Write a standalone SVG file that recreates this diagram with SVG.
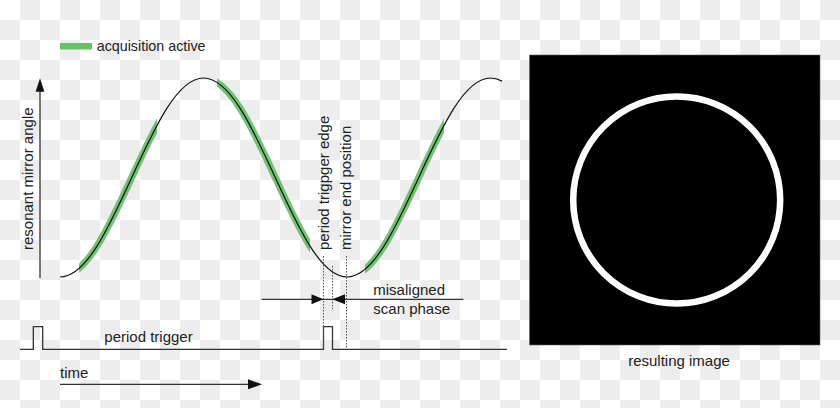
<svg xmlns="http://www.w3.org/2000/svg" xmlns:xlink="http://www.w3.org/1999/xlink" width="840" height="408" viewBox="0 0 840 408">
<style>
text{font-family:"Liberation Sans",Arial,sans-serif;font-size:15px;fill:#222}
.wave{fill:none;stroke:#111;stroke-width:1.2}
.acq{fill:none;stroke:#5cb85c;stroke-opacity:0.85;stroke-width:7}
.line{fill:none;stroke:#333;stroke-width:1.3}
.dot{fill:none;stroke:#555;stroke-width:1;stroke-dasharray:1.5 1.5}
.head{fill:#111}
</style>
<defs>
<pattern id="checker" width="40" height="40" patternUnits="userSpaceOnUse">
<rect width="40" height="40" fill="#ffffff"/>
<rect x="20" y="0" width="20" height="20" fill="#ededed"/>
<rect x="0" y="20" width="20" height="20" fill="#ededed"/>
</pattern>
<path id="sine" d="M60,277 C85.97,277 108.34,228.5 131.75,177.5 C155.16,126.5 177.53,78 203.5,78 C229.47,78 251.84,126.5 275.25,177.5 C298.66,228.5 321.03,277 347,277 C372.97,277 395.34,228.5 418.75,177.5 C442.16,126.5 464.53,78 490.5,78 Q496.25,78 502,81.15"/>
<clipPath id="acqclip">
<rect x="79" y="0" width="78" height="408"/>
<rect x="217" y="0" width="93" height="408"/>
<rect x="365" y="0" width="79" height="408"/>
</clipPath>
</defs>
<rect width="840" height="408" fill="url(#checker)"/>

<g id="legend">
<rect x="60" y="43" width="32" height="6.5" fill="#6abf69"/>
<text x="96.7" y="51" style="font-size:14.3px">acquisition active</text>
</g>

<g id="axis-label">
<text transform="translate(33,250) rotate(-90)">resonant mirror angle</text>
</g>

<g id="mirror-curve">
<use xlink:href="#sine" href="#sine" class="acq" clip-path="url(#acqclip)"/>
<use xlink:href="#sine" href="#sine" class="wave"/>
</g>

<g id="trigger-signal">
<path class="line" d="M20,349.3 H33.3 V326.7 H42.7 V349.3 H323.5 V326.7 H332.5 V349.3 H507"/>
<text x="104.3" y="342.3">period trigger</text>
</g>

<g id="edge-labels">
<text transform="translate(328.5,250) rotate(-90)">period trigpger edge</text>
<text transform="translate(351.2,250) rotate(-90)">mirror end position</text>
</g>

<g id="phase-label">
<text x="373.3" y="295">misaligned</text>
<text x="373.3" y="313.5">scan phase</text>
</g>

<g id="time-label">
<text x="60" y="378">time</text>
</g>

<g id="resulting-image">
<rect x="529.5" y="55" width="290.5" height="290" fill="#000" stroke="#666" stroke-width="0.6"/>
<circle cx="676.7" cy="200" r="103.5" fill="none" stroke="#fff" stroke-width="6.5"/>
<text x="679" y="366" text-anchor="middle">resulting image</text>
</g>

<g id="connectors">
<line class="line" x1="40" y1="278.3" x2="40" y2="88"/>
<polygon class="head" points="40,78.3 35.6,91.7 44.4,91.7"/>
<line class="dot" x1="323.5" y1="256" x2="323.5" y2="349"/>
<line class="dot" x1="332.5" y1="266" x2="332.5" y2="309"/>
<line class="dot" x1="346.5" y1="256" x2="346.5" y2="349"/>
<line class="line" x1="261.7" y1="299.3" x2="463.3" y2="299.3"/>
<polygon class="head" points="323.3,299.3 311.5,294.3 311.5,304.3"/>
<polygon class="head" points="332.3,299.3 345,294.3 345,304.3"/>
<line class="line" x1="60" y1="384.3" x2="252" y2="384.3"/>
<polygon class="head" points="262,384.3 248,379.3 248,389.3"/>
</g>
</svg>
